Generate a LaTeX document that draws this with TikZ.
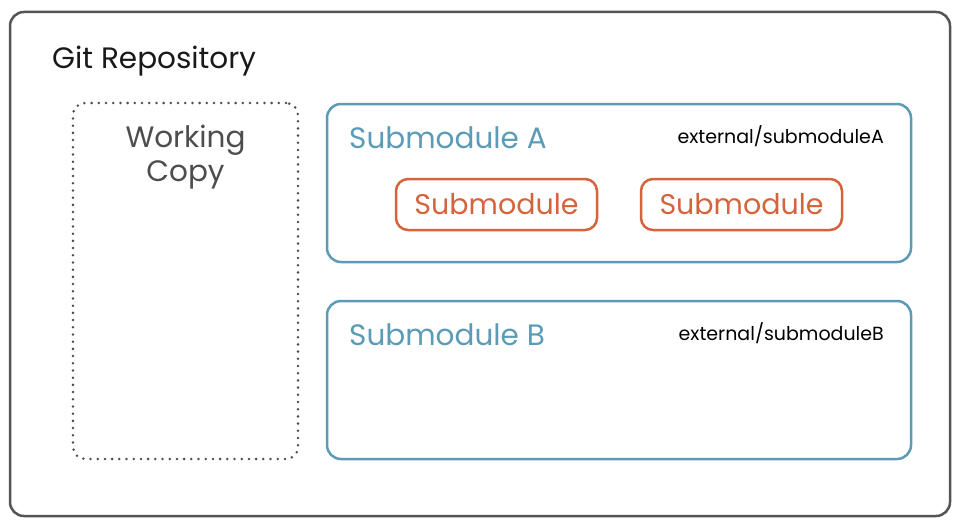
\documentclass[tikz,border=0pt]{standalone}
\usepackage{fontspec}
\setmainfont{Poppins}
\usepackage{xcolor}
\usepackage{tikz}
\usetikzlibrary{positioning, calc}
\definecolor{RepoGray}{RGB}{85,85,85}
\definecolor{ModBlue}{RGB}{91,155,181}
\definecolor{SubOrange}{RGB}{213,99,60}
\definecolor{TextGray}{RGB}{77,77,77}
\tikzset{
    repobox/.style={
        draw=RepoGray, line width=2.5pt, rounded corners=14pt, minimum width=940pt, minimum height=504pt
    },
    workbox/.style={
        draw=TextGray, line width=2.8pt, line cap=round, dash pattern=on 0pt off 7.2pt,
        rounded corners=12pt, minimum width=225pt, minimum height=356pt
    },
    modbox/.style={
        draw=ModBlue, line width=2.5pt, rounded corners=14pt, minimum width=584pt, minimum height=158pt
    },
    subbox/.style={
        draw=SubOrange, line width=2.5pt, rounded corners=12pt, minimum width=201pt, minimum height=51pt,
        text=SubOrange, font=\fontsize{28.5}{31}\selectfont
    },
    bigtext/.style={
        font=\fontsize{29.5}{34}\selectfont, inner sep=0pt, anchor=base west
    },
    pathtext/.style={
        font=\fontsize{19}{22}\selectfont, inner sep=0pt, anchor=base east
    }
}
\begin{document}
\begin{tikzpicture}[x=1pt, y=-1pt]
    \useasboundingbox (0,0) rectangle (965,527);
    % boxes
    \node[repobox] (repo) at (480,264) {};
    \node[workbox] (work) at (185.5,281) {};
    \node[modbox] (modA) at (619,183) {};
    \node[modbox] (modB) at (619,380) {};
    \node[subbox] (subA1) at (496.5,204.5) {Submodule};
    \node[subbox] (subA2) at (741.5,204.5) {Submodule};
    % labels
    \node[bigtext, text=black!90] (repolabel) at (52,68) {Git Repository};
    \node[bigtext, text=TextGray, align=center, anchor=north] (worklabel) at (185.5,125) {Working\\Copy};
    \node[bigtext, text=ModBlue] (modAlabel) at (349,148) {Submodule A};
    \node[pathtext] (modApath) at (884,143.5) {external/submoduleA};
    \node[bigtext, text=ModBlue] (modBlabel) at (349,345) {Submodule B};
    \node[pathtext] (modBpath) at (884,340.5) {external/submoduleB};
\end{tikzpicture}
\end{document}
